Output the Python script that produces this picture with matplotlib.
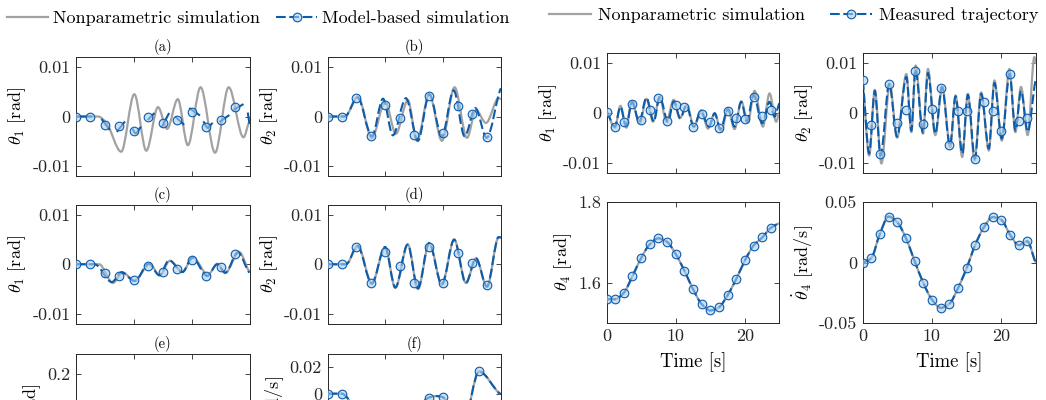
import numpy as np
import matplotlib
matplotlib.use('Agg')
import matplotlib.pyplot as plt
from matplotlib.path import Path
from matplotlib.patches import PathPatch
from matplotlib.lines import Line2D

plt.rcParams['font.family'] = 'serif'
plt.rcParams['font.serif'] = ['cmr10']
plt.rcParams['mathtext.fontset'] = 'cm'
plt.rcParams['axes.unicode_minus'] = False
plt.rcParams['lines.scale_dashes'] = False
plt.rcParams['axes.formatter.use_mathtext'] = True

GRAY = '#A2A2A2'
BLUE = '#0C5CAC'
MFACE = (0.66, 0.80, 0.93, 0.6)
DASH = (0, (7.0, 2.6))
nan = np.nan

# ---------------- data: left block (time 0..15 s) ----------------
left_marker_t = [0, 1.25, 2.5, 3.75, 5.0, 6.25, 7.5, 8.75, 10.0, 11.25, 12.5, 13.75]

a_gray_t = [0, 1.9, 2.6, 3.91, 5.04, 6.08, 7.09, 7.88, 8.80, 9.67, 10.77, 12.02, 13.2, 14.48, 15.0]
a_gray_v = [0, 0, -0.0012, -0.0071, 0.0045, -0.0069, 0.0019, -0.0025, 0.0035, -0.0058, 0.0059, -0.0073, 0.0059, -0.0042, -0.001]
a_blue_t = [0, 1.4, nan, 2.2, 2.92, nan, 3.53, 4.23, nan, 4.87, 5.15, 5.62, nan, 6.2, 6.78, nan,
            7.41, 8.05, nan, 8.57, 9.35, nan, 9.79, 10.72, nan, 11.0, 11.38, 11.82, nan,
            12.4, 13.26, nan, 13.6, 14.48, nan, 14.85, 15.0]
a_blue_v = [0, 0, nan, -0.0005, -0.0027, nan, -0.0031, -0.001, nan, -0.0025, -0.0034, -0.0021, nan, -0.0007, 0.0007, nan,
            -0.0022, 0.0007, nan, 0.0, -0.0017, nan, 0.0017, 0.0002, nan, -0.001, -0.0023, -0.0013, nan,
            -0.0011, 0.0003, nan, 0.0013, 0.0025, nan, 0.0008, -0.0015]
a_mark_v = [0, 0, -0.0017, -0.0019, -0.003, -0.0002, -0.0013, -0.0007, 0.001, -0.0022, -0.0007, 0.0019]

b_gray_t = [0, 1.5, 2.63, 3.84, 4.99, 5.91, 6.95, 7.73, 8.8, 9.89, 10.99, 12.06, 12.84, 13.7, 14.8, 15]
b_gray_v = [0, 0, 0.004, -0.0043, 0.003, -0.0035, 0.0033, -0.0049, 0.0045, -0.0049, 0.0059, -0.0043, 0.0013, -0.0013, 0.0037, 0.0035]
b_blue_t = [0, 1.5, 2.6, 3.84, 4.8, 5.65, 6.78, 7.82, 8.8, 9.89, 10.9, 11.86, 12.78, 13.76, 15]
b_blue_v = [0, 0, 0.0038, -0.004, 0.0036, -0.0038, 0.0037, -0.0049, 0.0045, -0.004, 0.0053, -0.004, 0.0017, -0.0043, 0.0057]
b_mark_v = [0, 0, 0.0037, -0.0039, 0.0023, -0.0003, -0.0037, 0.0042, -0.0033, 0.0021, 0.0005, -0.0042]

c_gray_t = [0, 2.0, 3.19, 4.0, 5.1, 6.37, 7.24, 8.11, 9.21, 10.1, 11.4, 12.25, 12.9, 14.1, 15]
c_gray_v = [0, 0, -0.0038, -0.0017, -0.0033, 0.0001, -0.0023, 0.0007, -0.0015, 0.0014, -0.0021, 0.0001, -0.0018, 0.0025, -0.0015]
c_blue_t = [0, 1.6, 3.1, 3.95, 5.05, 6.3, 7.2, 8.05, 9.2, 10.05, 11.35, 12.2, 12.9, 14.0, 15]
c_blue_v = [0, 0, -0.0036, -0.0016, -0.0034, 0.0001, -0.0022, 0.0008, -0.0016, 0.0013, -0.0024, 0.0, -0.0017, 0.0024, -0.0017]
c_mark_v = [0, 0, -0.0017, -0.0023, -0.0031, -0.0003, -0.0015, -0.0009, 0.0009, -0.0023, -0.0006, 0.002]

d_gray_t = [0, 1.6, 2.63, 3.84, 4.99, 5.86, 6.95, 7.82, 8.8, 9.89, 10.96, 11.97, 12.84, 13.79, 14.8, 15]
d_gray_v = [0, 0, 0.0037, -0.0039, 0.0035, -0.0048, 0.004, -0.005, 0.0043, -0.0041, 0.005, -0.0038, 0.0012, -0.0046, 0.0055, 0.0054]
d_blue_t = [0, 1.6, 2.6, 3.82, 4.97, 5.86, 6.93, 7.82, 8.78, 9.88, 10.95, 11.96, 12.84, 13.78, 14.8, 15]
d_blue_v = [0, 0, 0.0037, -0.0039, 0.0035, -0.0047, 0.004, -0.0049, 0.0043, -0.0041, 0.005, -0.0038, 0.0012, -0.0045, 0.0055, 0.0054]
d_mark_v = [0, 0, 0.0035, -0.0038, 0.0024, -0.0003, -0.0037, 0.0035, -0.0038, 0.0022, 0.0003, -0.0043]

f_t = [0, 1.25, 1.6, 3.0, 5.5, 7.3, 8.75, 9.4, 10.0, 10.8, 11.8, 13.1, 15]
f_v = [0, 0, -0.002, -0.025, -0.04, -0.02, -0.003, -0.0018, -0.0028, -0.015, -0.02, 0.0168, -0.0005]
f_mark_t = [0, 1.25, 8.75, 10.0, 13.1]
f_mark_v = [0, 0, -0.003, -0.0028, 0.0168]

# ---------------- data: right block (time 0..25 s) ----------------
right_marker_t = [0, 1.25, 2.5, 3.75, 5.0, 6.25, 7.5, 8.75, 10.0, 11.25, 12.5, 13.75,
                  15.0, 16.25, 17.5, 18.75, 20.0, 21.25, 22.5, 23.75]

r1_gray_t = [0, 1.2, 2.02, 2.88, 3.6, 4.81, 5.77, 6.73, 7.69, 8.65, 9.71, 10.58, 11.63, 12.64, 13.7,
             14.66, 15.63, 16.59, 17.55, 18.51, 19.47, 20.43, 21.4, 22.6, 23.56, 24.52, 25]
r1_gray_v = [0.0002, -0.003, 0.0014, -0.003, 0.0022, -0.0021, 0.0028, -0.0018, 0.0032, -0.0018, 0.0026,
             -0.0011, 0.0015, -0.0028, 0.0005, -0.0032, -0.0001, -0.0038, 0.0009, -0.0033, 0.0023,
             -0.0019, 0.0044, -0.0028, 0.0039, -0.0018, 0.0002]
r1_blue_t = [0, 1.2, 2.02, 2.79, 3.75, 4.71, 5.77, 6.83, 7.69, 8.89, 9.71, 10.67, 11.54, 12.6, 13.61,
             14.81, 15.63, 16.44, 17.55, 18.51, 19.47, 20.29, 21.25, 22.5, 23.56, 24.28, 25]
r1_blue_v = [0.0002, -0.0028, 0.0012, -0.0026, 0.0022, -0.0019, 0.003, -0.0018, 0.0032, -0.0018, 0.0023,
             -0.0011, 0.0015, -0.0028, 0.0002, -0.0028, -0.0001, -0.0033, 0.0007, -0.0028, 0.0022,
             -0.0018, 0.0036, -0.0021, 0.0022, -0.0008, 0.0019]
r1_mark_v = [0.0002, -0.0028, -0.0018, 0.0017, -0.0015, 0.0005, 0.003, -0.0016, 0.0015, 0.0012,
             -0.0028, -0.0003, -0.0019, -0.003, 0.0003, -0.0011, -0.0013, 0.0031, -0.0006, 0.0005]

r2_gray_t = [0, 0.96, 1.77, 2.73, 3.93, 4.98, 6.32, 7.04, 7.66, 8.72, 9.43, 10.49, 11.49, 12.64, 13.41,
             14.37, 15.18, 16.14, 17.1, 18.2, 19.01, 20.07, 21.17, 22.03, 22.84, 23.8, 24.76, 25]
r2_gray_v = [0.0065, -0.0086, 0.0046, -0.0102, 0.0058, -0.005, 0.0078, -0.0039, 0.0095, -0.0042, 0.0088,
             -0.0045, 0.0052, -0.0069, 0.0035, -0.0089, 0.0038, -0.0096, 0.0041, -0.0076, 0.0065,
             -0.0056, 0.0088, -0.0039, 0.0052, -0.0045, 0.0112, 0.0098]
r2_blue_t = [0, 0.96, 1.77, 2.6, 3.85, 4.98, 6.32, 7.04, 7.62, 8.72, 9.43, 10.49, 11.45, 12.6, 13.41,
             14.37, 15.18, 16.2, 17.1, 18.2, 19.01, 20.07, 21.2, 22.03, 22.84, 23.8, 25]
r2_blue_v = [0.0066, -0.0082, 0.0044, -0.0086, 0.0058, -0.0048, 0.0072, -0.0036, 0.0087, -0.004, 0.008,
             -0.0042, 0.0052, -0.0066, 0.0033, -0.0082, 0.0036, -0.0092, 0.0038, -0.0072, 0.006,
             -0.0052, 0.0078, -0.0036, 0.0044, -0.0038, 0.0069]
r2_mark_v = [0.0066, -0.0025, -0.0082, 0.0057, -0.0021, 0.0005, 0.0084, -0.0023, 0.0007, 0.005,
             -0.0064, 0.0003, 0.0003, -0.0092, 0.0021, 0.0003, -0.0037, 0.0077, -0.0017, -0.0011]

r3_t = right_marker_t + [25.0]
r3_v = [1.559, 1.559, 1.575, 1.616, 1.661, 1.695, 1.710, 1.701, 1.671, 1.630, 1.584, 1.547, 1.531,
        1.539, 1.569, 1.609, 1.655, 1.692, 1.712, 1.736, 1.747]

r4_t = right_marker_t + [25.0]
r4_v = [0.0, 0.0036, 0.0236, 0.038, 0.0333, 0.0203, 0.0014, -0.0167, -0.0306, -0.0375, -0.0342,
        -0.0214, -0.0047, 0.0147, 0.0292, 0.0375, 0.0353, 0.0231, 0.0144, 0.0175, 0.0]


# ---------------- helpers ----------------
def _tangents(x, y):
    n = len(x)
    h = np.diff(x)
    d = np.diff(y) / h
    m = np.zeros(n)
    if n == 2:
        m[:] = d[0]
        return m
    for i in range(1, n - 1):
        if d[i - 1] * d[i] > 0:
            w1 = 2 * h[i] + h[i - 1]
            w2 = h[i] + 2 * h[i - 1]
            m[i] = (w1 + w2) / (w1 / d[i - 1] + w2 / d[i])
    m[0] = 0.0 if d[0] == 0 else d[0] * 0.5
    m[-1] = d[-1] * 0.5
    return m


def smooth_path(t, v):
    t = np.asarray(t, float)
    v = np.asarray(v, float)
    verts, codes = [], []
    bad = np.isnan(t) | np.isnan(v)
    idx = np.where(bad)[0]
    starts = np.concatenate([[0], idx + 1])
    ends = np.concatenate([idx, [len(t)]])
    for s, e in zip(starts, ends):
        x, y = t[s:e], v[s:e]
        if len(x) < 2:
            continue
        m = _tangents(x, y)
        verts.append((x[0], y[0]))
        codes.append(Path.MOVETO)
        for i in range(len(x) - 1):
            h = x[i + 1] - x[i]
            verts += [(x[i] + h / 3, y[i] + m[i] * h / 3),
                      (x[i + 1] - h / 3, y[i + 1] - m[i + 1] * h / 3),
                      (x[i + 1], y[i + 1])]
            codes += [Path.CURVE4] * 3
    return Path(verts, codes)


def draw_curve(ax, t, v, color, lw, ls='-', z=2):
    p = PathPatch(smooth_path(t, v), facecolor='none', edgecolor=color, lw=lw,
                  linestyle=ls, capstyle='butt', joinstyle='round', zorder=z)
    ax.add_patch(p)


MS = 6.2
MEW = 0.8


def draw_markers(ax, t, v):
    ax.plot(t, v, linestyle='none', marker='o', ms=MS, mfc=MFACE, mec=BLUE, mew=MEW, zorder=4)


W, H = 1046, 400
fig = plt.figure(figsize=(W / 100, H / 100), dpi=100)


def add_axes(x0, y0, x1, y1):
    ax = fig.add_axes([x0 / W, 1 - y1 / H, (x1 - x0) / W, (y1 - y0) / H])
    for s in ax.spines.values():
        s.set_color('#262626')
        s.set_linewidth(0.7)
    ax.tick_params(direction='in', length=3.5, width=0.6, top=True, right=True,
                   labelsize=13, pad=4, colors='#262626', labelcolor='#262626')
    return ax


def small_y(ax):
    ax.set_ylim(-0.012, 0.012)
    ax.set_yticks([-0.01, 0, 0.01])
    ax.set_yticklabels(['-0.01', '0', '0.01'])


# ---------------- left block ----------------
lx = [(76, 249.5), (327.5, 501)]
ly = [(57, 176), (205, 323.5), (354, 473)]
titles = [['(a)', '(b)'], ['(c)', '(d)'], ['(e)', '(f)']]
left_axes = {}
for r in range(3):
    for c in range(2):
        ax = add_axes(lx[c][0], ly[r][0], lx[c][1], ly[r][1])
        ax.set_xlim(0, 15)
        ax.set_xticks([0, 5, 10, 15])
        ax.set_xticklabels([])
        ax.set_title(titles[r][c], fontsize=10.5, pad=4)
        left_axes[(r, c)] = ax

ax = left_axes[(0, 0)]
small_y(ax)
ax.set_ylabel(r'$\theta_1$ [rad]', fontsize=13, labelpad=3)
draw_curve(ax, a_gray_t, a_gray_v, GRAY, 1.6)
draw_curve(ax, a_blue_t, a_blue_v, BLUE, 1.5, '-', 3)
draw_markers(ax, left_marker_t, a_mark_v)

ax = left_axes[(0, 1)]
small_y(ax)
ax.set_ylabel(r'$\theta_2$ [rad]', fontsize=13, labelpad=3)
draw_curve(ax, b_gray_t, b_gray_v, GRAY, 1.6)
draw_curve(ax, b_blue_t, b_blue_v, BLUE, 1.5, DASH, 3)
draw_markers(ax, left_marker_t, b_mark_v)

ax = left_axes[(1, 0)]
small_y(ax)
ax.set_ylabel(r'$\theta_1$ [rad]', fontsize=13, labelpad=3)
draw_curve(ax, c_gray_t, c_gray_v, GRAY, 1.6)
draw_curve(ax, c_blue_t, c_blue_v, BLUE, 1.5, DASH, 3)
draw_markers(ax, left_marker_t, c_mark_v)

ax = left_axes[(1, 1)]
small_y(ax)
ax.set_ylabel(r'$\theta_2$ [rad]', fontsize=13, labelpad=3)
draw_curve(ax, d_gray_t, d_gray_v, GRAY, 1.6)
draw_curve(ax, d_blue_t, d_blue_v, BLUE, 1.5, DASH, 3)
draw_markers(ax, left_marker_t, d_mark_v)

ax = left_axes[(2, 0)]
ax.set_ylim(-0.05, 0.25)
ax.set_yticks([0, 0.1, 0.2])
ax.set_yticklabels(['', '', '0.2'])
ax.set_ylabel(r'$\theta_3$ [rad]', fontsize=13, labelpad=3)

ax = left_axes[(2, 1)]
ax.set_ylim(-0.06, 0.03)
ax.set_yticks([-0.04, -0.02, 0, 0.02])
ax.set_yticklabels(['', '', '0', '0.02'])
ax.set_ylabel(r'$\dot{\theta}_3$ [rad/s]', fontsize=13, labelpad=3)
draw_curve(ax, f_t, f_v, GRAY, 1.6)
draw_curve(ax, f_t, f_v, BLUE, 1.5, DASH, 3)
draw_markers(ax, f_mark_t, f_mark_v)

# ---------------- right block ----------------
rx = [(606.5, 779.5), (862.5, 1036)]
ry = [(53, 172.5), (202, 323)]
right_axes = {}
for r in range(2):
    for c in range(2):
        ax = add_axes(rx[c][0], ry[r][0], rx[c][1], ry[r][1])
        ax.set_xlim(0, 25)
        ax.set_xticks([0, 10, 20])
        if r == 0:
            ax.set_xticklabels([])
        else:
            ax.set_xticklabels(['0', '10', '20'])
            ax.set_xlabel('Time [s]', fontsize=13.5, labelpad=6)
        right_axes[(r, c)] = ax

ax = right_axes[(0, 0)]
small_y(ax)
ax.set_ylabel(r'$\theta_1$ [rad]', fontsize=13, labelpad=3)
draw_curve(ax, r1_gray_t, r1_gray_v, GRAY, 1.6)
draw_curve(ax, r1_blue_t, r1_blue_v, BLUE, 1.5, DASH, 3)
draw_markers(ax, right_marker_t, r1_mark_v)

ax = right_axes[(0, 1)]
small_y(ax)
ax.set_ylabel(r'$\theta_2$ [rad]', fontsize=13, labelpad=3)
draw_curve(ax, r2_gray_t, r2_gray_v, GRAY, 1.6)
draw_curve(ax, r2_blue_t, r2_blue_v, BLUE, 1.5, DASH, 3)
draw_markers(ax, right_marker_t, r2_mark_v)

ax = right_axes[(1, 0)]
ax.set_ylim(1.5, 1.8)
ax.set_yticks([1.6, 1.8])
ax.set_yticklabels(['1.6', '1.8'])
ax.set_ylabel(r'$\theta_4$ [rad]', fontsize=13, labelpad=3)
draw_curve(ax, r3_t, r3_v, GRAY, 1.6)
draw_curve(ax, r3_t, r3_v, BLUE, 1.5, DASH, 3)
draw_markers(ax, right_marker_t, r3_v[:-1])

ax = right_axes[(1, 1)]
ax.set_ylim(-0.05, 0.05)
ax.set_yticks([-0.05, 0, 0.05])
ax.set_yticklabels(['-0.05', '0', '0.05'])
ax.set_ylabel(r'$\dot{\theta}_4$ [rad/s]', fontsize=13, labelpad=3)
draw_curve(ax, r4_t, r4_v, GRAY, 1.6)
draw_curve(ax, r4_t, r4_v, BLUE, 1.5, DASH, 3)
draw_markers(ax, right_marker_t, r4_v[:-1])

# ---------------- legends ----------------
h_gray = Line2D([], [], color=GRAY, lw=1.6)
h_model = Line2D([], [], color=BLUE, lw=1.5, ls=DASH, marker='o', ms=MS, mfc=MFACE, mec=BLUE, mew=MEW)
fig.legend([h_gray, h_model], ['Nonparametric simulation', 'Model-based simulation'],
           loc='center', bbox_to_anchor=(258 / W, 1 - 18 / H), ncol=2, frameon=False,
           fontsize=13, handlelength=2.3, handletextpad=0.25, columnspacing=0.9, borderpad=0)
fig.legend([h_gray, h_model], ['Nonparametric simulation', 'Measured trajectory'],
           loc='center', bbox_to_anchor=(794 / W, 1 - 15 / H), ncol=2, frameon=False,
           fontsize=13, handlelength=2.3, handletextpad=0.4, columnspacing=1.4, borderpad=0)

fig.savefig('out.png', dpi=100)
